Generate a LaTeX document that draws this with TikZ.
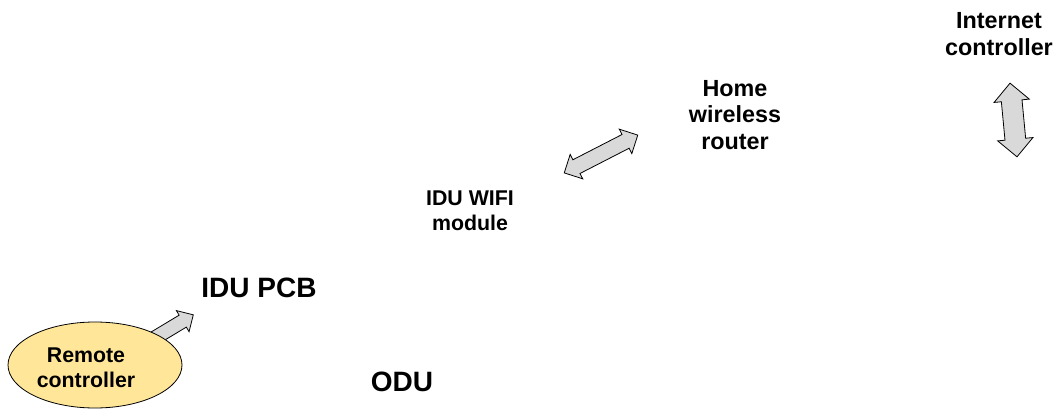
\documentclass[tikz,border=0pt]{standalone}
\usepackage{fontspec}
\setmainfont{Liberation Sans}
\usetikzlibrary{shapes.geometric, shapes.arrows}

\definecolor{remotefill}{RGB}{255,230,153}
\definecolor{arrowfill}{RGB}{217,217,217}

\tikzset{
  bigtxt/.style={font=\bfseries\fontsize{21}{24}\selectfont, align=center},
  midtxt/.style={font=\bfseries\fontsize{17.5}{20}\selectfont, align=center},
  smalltxt/.style={font=\bfseries\fontsize{16}{19}\selectfont, align=center},
  blockarrow/.style={draw=black, line width=0.6pt, fill=arrowfill,
    inner xsep=0pt, shape border uses incircle},
}

\begin{document}
\begin{tikzpicture}[x=0.75pt, y=-0.75pt]
    \useasboundingbox (0,0) rectangle (1057,410);

    % block arrows
    \node[blockarrow, single arrow, rotate=31, inner ysep=3.4pt,
      minimum width=15pt, minimum height=39pt,
      single arrow head extend=4pt] (rcarrow) at (168,330) {};
    \node[blockarrow, double arrow, rotate=27.2, inner ysep=3.8pt,
      minimum width=16.5pt, minimum height=62pt,
      double arrow head extend=4.5pt] (wifiarrow) at (601,154) {};
    \node[blockarrow, double arrow, rotate=95.4, inner ysep=5.2pt,
      minimum width=21pt, minimum height=55.5pt,
      double arrow head extend=5.5pt] (netarrow) at (1013.5,120) {};

    % remote controller
    \node[ellipse, draw=black, line width=0.6pt, fill=remotefill,
      minimum width=130.5pt, minimum height=64.5pt] (remote) at (95,365) {};
    \node[smalltxt] (remotetxt) at (86,368) {Remote\\controller};

    \node[bigtxt] (idupcb) at (259,288) {IDU PCB};
    \node[bigtxt] (odu) at (402,382) {ODU};
    \node[smalltxt] (wifi) at (470,211) {IDU WIFI\\module};
    \node[midtxt] (router) at (735,115) {Home\\wireless\\router};
    \node[midtxt] (internet) at (999,34) {Internet\\controller};

\end{tikzpicture}
\end{document}
